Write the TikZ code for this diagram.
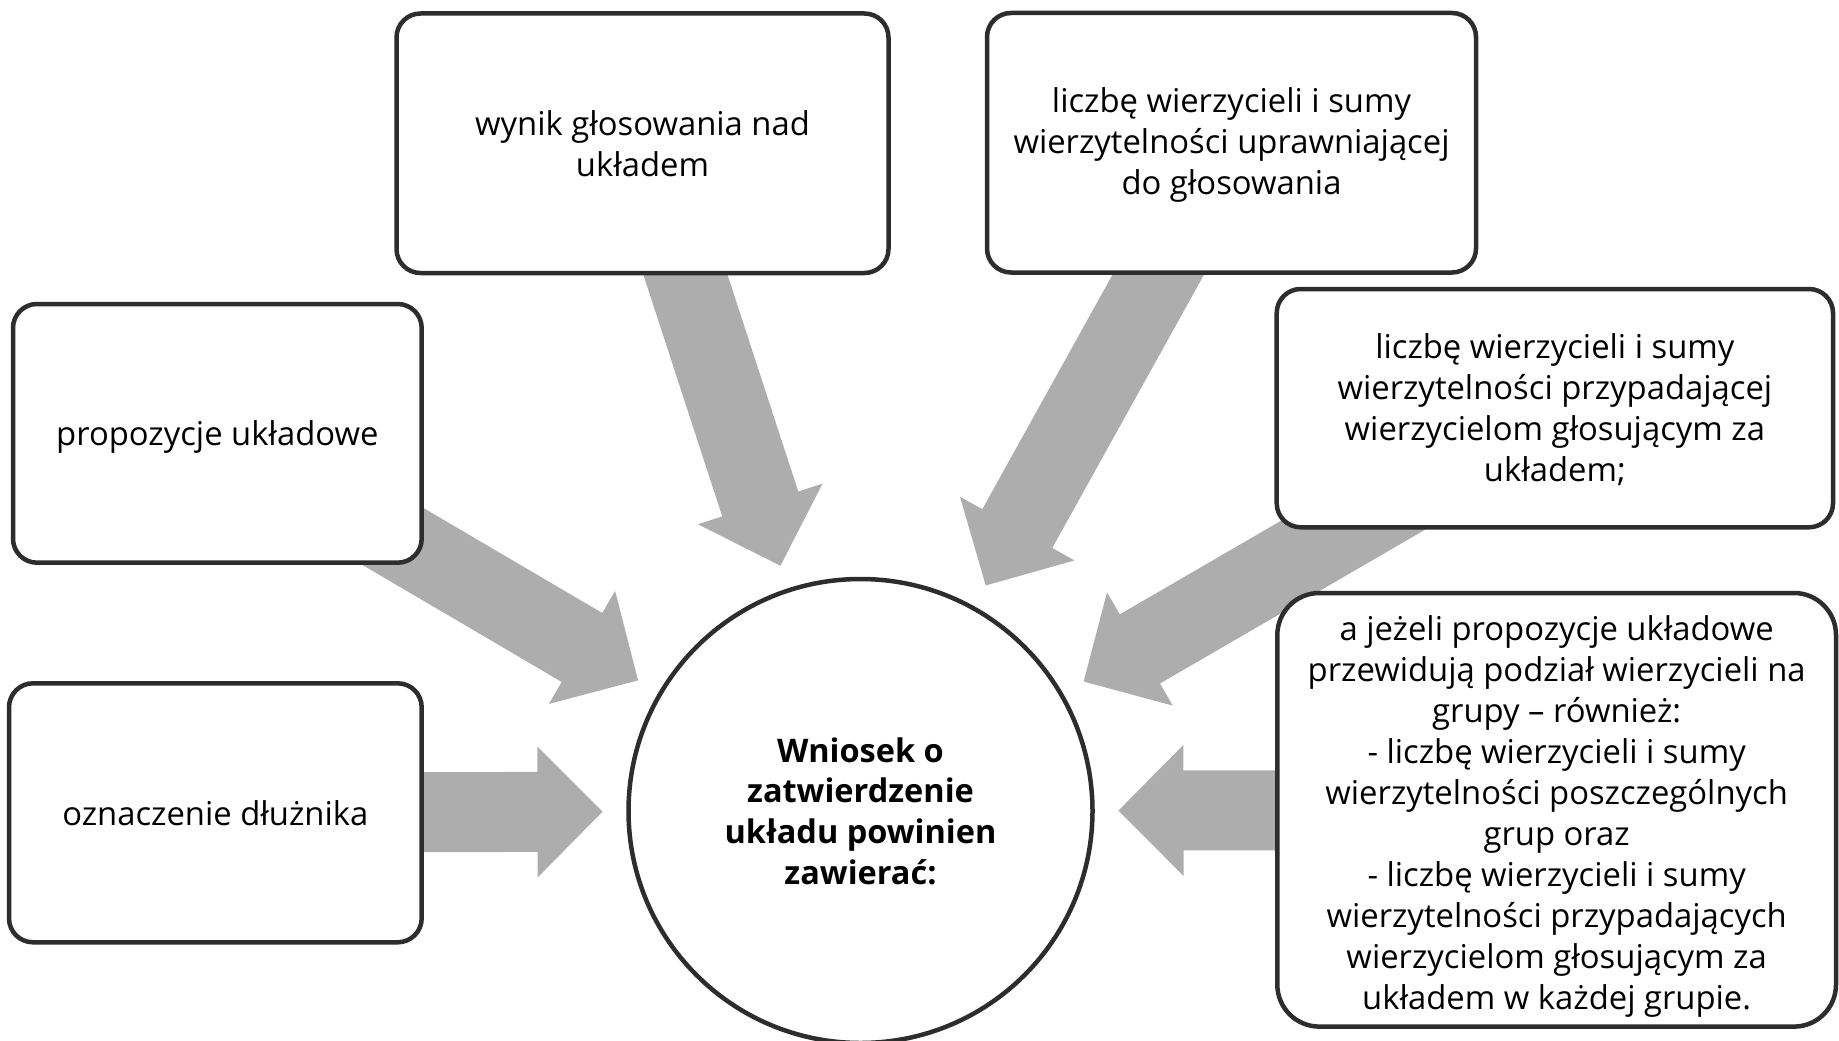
\documentclass[tikz,border=0pt]{standalone}
\usepackage{fontspec}
\setmainfont{Open Sans}
\usetikzlibrary{calc,backgrounds}

\definecolor{edge}{RGB}{45,45,45}
\definecolor{flow}{RGB}{173,173,173}

\tikzset{
  card/.style={draw=edge, line width=4.5pt, fill=white, rounded corners=24pt,
    inner sep=0pt, align=center, font=\fontsize{32.8}{41}\selectfont},
  hubnode/.style={circle, draw=edge, line width=4.5pt, fill=white,
    minimum size=464pt, inner sep=0pt, align=center,
    font=\bfseries\fontsize{32.5}{40.7}\selectfont},
}

% Centred lines of text set a little lower than the middle of their box.
\newcommand\lowertext[2]{%
  \raisebox{-#1}[\height][\depth]{\begin{tabular}{@{}c@{}}#2\end{tabular}}}

% Broad grey block arrow from the centre of box #1 towards node #2;
% the tail lies under the box, the tip stops short of the hub.
\newcommand\feedarrow[2]{%
  \coordinate (fa-tip) at ($(#2.center)!258pt!(#1.center)$);
  \coordinate (fa-base) at ($(#2.center)!323pt!(#1.center)$);
  \fill[flow] ($(#1.center)!40pt!90:(#2.center)$)
    -- ($(fa-base)!40pt!-90:(#1.center)$)
    -- ($(fa-base)!65.5pt!-90:(#1.center)$)
    -- (fa-tip)
    -- ($(fa-base)!65.5pt!90:(#1.center)$)
    -- ($(fa-base)!40pt!90:(#1.center)$)
    -- ($(#1.center)!40pt!-90:(#2.center)$) -- cycle;
}

\begin{document}
\begin{tikzpicture}[x=1pt,y=-1pt]
  \useasboundingbox (0,0) rectangle (1839,1041);

  % boxes around the hub
  \node[card, minimum width=492pt, minimum height=259.5pt] (vote) at (642.5,143.25)
    {wynik głosowania nad\\układem};
  \node[card, minimum width=489pt, minimum height=259.5pt] (entitled) at (1231.5,142.75)
    {\lowertext{2.5pt}{liczbę wierzycieli i sumy\\wierzytelności uprawniającej\\do głosowania}};
  \node[card, minimum width=408.7pt, minimum height=258.7pt] (proposals) at (217.35,433.35)
    {\lowertext{3.5pt}{propozycje układowe}};
  \node[card, minimum width=412.7pt, minimum height=259pt] (debtor) at (215.35,812.8)
    {oznaczenie dłużnika};
  \node[card, minimum width=556.3pt, minimum height=238.3pt] (infavour) at (1554.85,408.15)
    {\lowertext{3.5pt}{liczbę wierzycieli i sumy\\wierzytelności przypadającej\\wierzycielom głosującym za\\układem;}};
  \node[card, minimum width=558.7pt, minimum height=433.6pt, rounded corners=42pt] (groups) at (1556.65,809.8)
    {\lowertext{7pt}{a jeżeli propozycje układowe\\przewidują podział wierzycieli na\\grupy – również:\\- liczbę wierzycieli i sumy\\wierzytelności poszczególnych\\grup oraz\\- liczbę wierzycieli i sumy\\wierzytelności przypadających\\wierzycielom głosującym za\\układem w każdej grupie.}};

  % central circle
  \node[hubnode] (hub) at (860.5,811)
    {Wniosek o\\zatwierdzenie\\układu powinien\\zawierać:};

  % arrows and page background, behind everything
  \begin{scope}[on background layer]
    \fill[white] (0,0) rectangle (1839,1041);
    \feedarrow{vote}{hub}
    \feedarrow{entitled}{hub}
    \feedarrow{proposals}{hub}
    \feedarrow{debtor}{hub}
    \feedarrow{infavour}{hub}
    \feedarrow{groups}{hub}
  \end{scope}
\end{tikzpicture}
\end{document}
